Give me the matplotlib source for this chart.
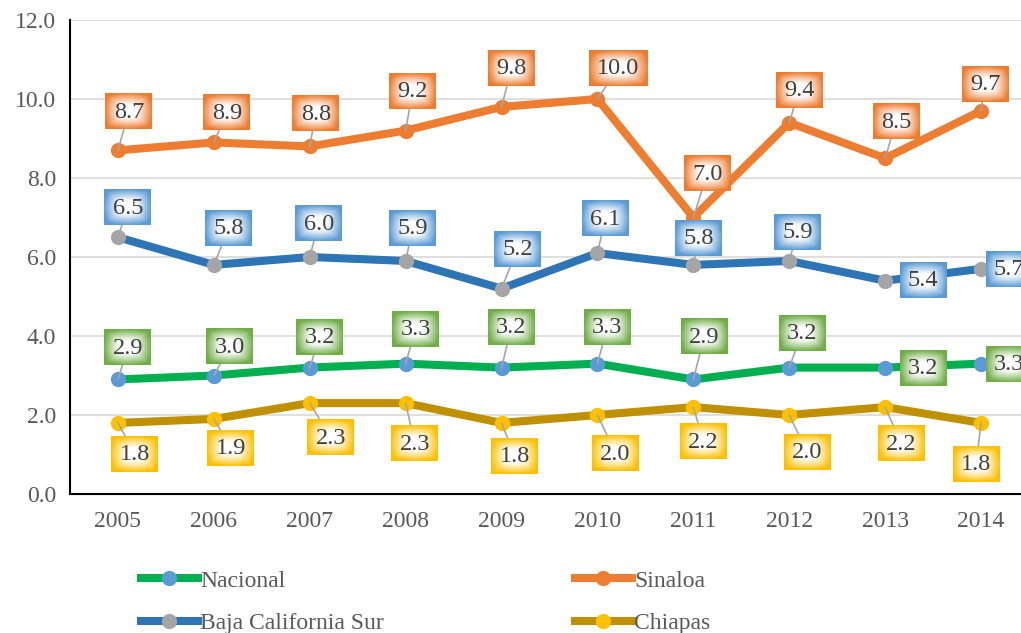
import numpy as np
import matplotlib
matplotlib.use('Agg')
import matplotlib.pyplot as plt
from matplotlib.offsetbox import OffsetImage, AnnotationBbox
from matplotlib.colors import to_rgb

plt.rcParams['font.family'] = ['Liberation Serif', 'DejaVu Serif']

# ---- data ----
years = ['2005', '2006', '2007', '2008', '2009', '2010', '2011', '2012', '2013', '2014']
nacional = [2.9, 3.0, 3.2, 3.3, 3.2, 3.3, 2.9, 3.2, 3.2, 3.3]
sinaloa = [8.7, 8.9, 8.8, 9.2, 9.8, 10.0, 7.0, 9.4, 8.5, 9.7]
bcs = [6.5, 5.8, 6.0, 5.9, 5.2, 6.1, 5.8, 5.9, 5.4, 5.7]
chiapas = [1.8, 1.9, 2.3, 2.3, 1.8, 2.0, 2.2, 2.0, 2.2, 1.8]
yticks = [0, 2, 4, 6, 8, 10, 12]

# ---- label layout (pixel offsets from point to label centre, y up) ----
off_nac = [(10, 32), (16, 29), (10, 31), (10, 35), (10, 41), (10, 37), (11, 43), (13, 35), (38, 0), (28, 0)]
off_sin = [(11, 39), (13, 30), (6, 33), (7, 40), (10, 39), (21, 31), (14, 44), (10, 33), (11, 37), (4, 27)]
off_bcs = [(10, 30), (15, 37), (9, 34), (7, 33), (16, 40), (8, 35), (5, 27), (8, 29), (38, 1), (28, 0)]
off_chi = [(17, -31), (17, -29), (21, -34), (9, -40), (13, -33), (18, -38), (10, -34), (18, -37), (16, -36), (-5, -41)]

W, H = 1021, 633
fig = plt.figure(figsize=(W / 100, H / 100), dpi=100)
ax = fig.add_axes([70 / W, (H - 494) / H, 959 / W, 474 / H])

x = np.arange(len(years))
series = [
    ('Nacional', nacional, '#00B050', '#5B9BD5', '#70AD47', off_nac),
    ('Baja California Sur', bcs, '#2E75B6', '#A5A5A5', '#5B9BD5', off_bcs),
    ('Sinaloa', sinaloa, '#ED7D31', '#ED7D31', '#ED7D31', off_sin),
    ('Chiapas', chiapas, '#BF9000', '#FFC000', '#FFC000', off_chi),
]


def grad_img(color, w, h):
    c = np.array(to_rgb(color))
    u = np.linspace(-1, 1, w)[None, :]
    v = np.linspace(-1, 1, h)[:, None]
    t = np.maximum(np.abs(u), np.abs(v))
    r = np.minimum(np.hypot(u, v) / 1.2, 1)
    t = 0.5 * t + 0.5 * r
    f = np.clip((t - 0.3) / 0.65, 0, 1) ** 1.2
    return (1 - f)[..., None] * np.ones(3) + f[..., None] * c


handles = []
for name, vals, lc, mc, bc, offs in series:
    ln, = ax.plot(x, vals, color=lc, lw=5.8, marker='o', ms=11, mfc=mc, mec=mc,
                  mew=0, zorder=3, label=name, solid_joinstyle='round')
    handles.append(ln)
    for xi, vi, (dx, dy) in zip(x, vals, offs):
        txt = f'{vi:.1f}'
        bw = 47 if len(txt) <= 3 else 59
        if abs(dy) > 15:
            ax.annotate('', xy=(xi, vi), xytext=(dx, dy), textcoords='offset pixels',
                        arrowprops=dict(arrowstyle='-', color='#A6A6A6', lw=1.2,
                                        shrinkA=0, shrinkB=0), zorder=4)
        ab = AnnotationBbox(OffsetImage(grad_img(bc, bw, 36), zoom=1, dpi_cor=False),
                            (xi, vi), xybox=(dx, dy), boxcoords='offset pixels',
                            frameon=False, pad=0, zorder=5, annotation_clip=False)
        ax.add_artist(ab)
        ax.annotate(txt, xy=(xi, vi), xytext=(dx, dy - 1), textcoords='offset pixels',
                    ha='center', va='center', fontsize=17.5, color='#404040',
                    zorder=6, annotation_clip=False)

ax.set_xlim(-0.5, len(years) - 0.5)
ax.set_ylim(0, 12)
ax.set_xticks(x)
ax.set_xticklabels(years)
ax.set_yticks(yticks)
ax.set_yticklabels([f'{t:.1f}' for t in yticks])
ax.tick_params(axis='both', length=0, labelsize=17, labelcolor='#595959')
ax.tick_params(axis='y', pad=10)
ax.tick_params(axis='x', pad=12)
ax.grid(axis='y', color='#D9D9D9', lw=1.2)
ax.set_axisbelow(True)
for s in ['top', 'right']:
    ax.spines[s].set_visible(False)
for s in ['left', 'bottom']:
    ax.spines[s].set_color('black')
    ax.spines[s].set_linewidth(1.5)

fig.legend(handles=handles, loc='upper left', bbox_to_anchor=(141 / W, 1 - 570 / H),
           ncol=2, frameon=False, fontsize=17, labelcolor='#595959',
           handlelength=2.4, handletextpad=0.1, columnspacing=8.1,
           labelspacing=0.9, borderpad=0, borderaxespad=0)

fig.savefig('out.png', dpi=100)
